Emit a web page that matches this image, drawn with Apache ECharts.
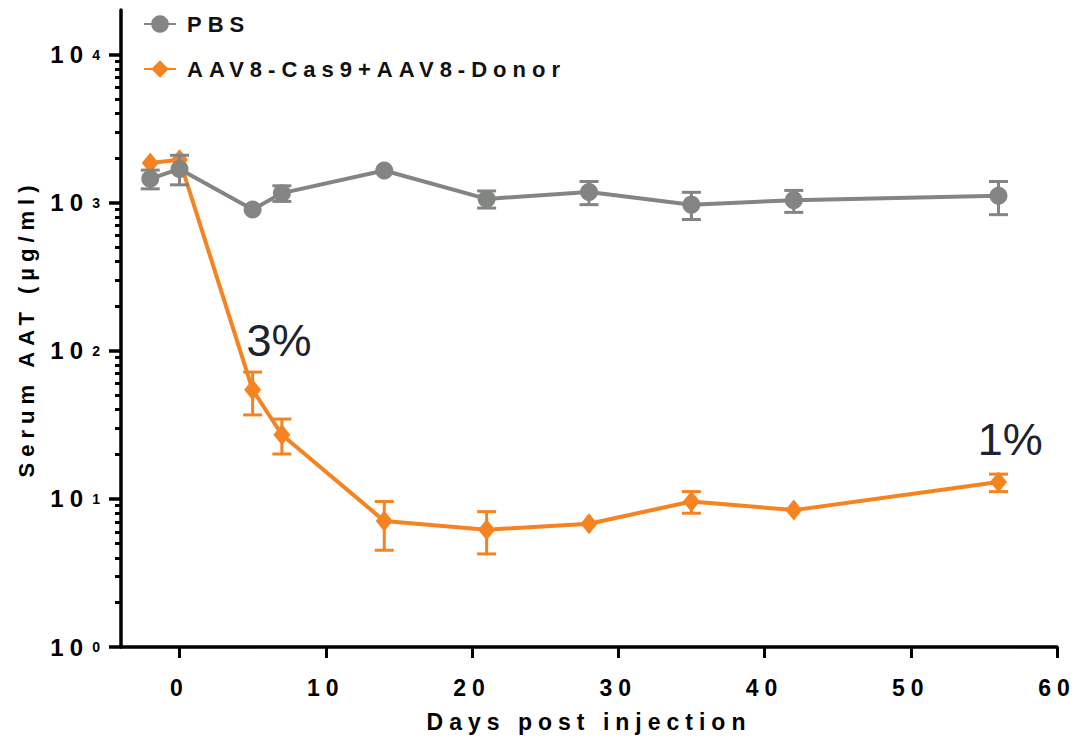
<!DOCTYPE html>
<html>
<head>
<meta charset="utf-8">
<script src="https://cdn.jsdelivr.net/npm/echarts@6/dist/echarts.min.js"></script>
<style>
  html, body { margin: 0; padding: 0; background: #fff; }
  #chart { width: 1087px; height: 744px; }
  #chart svg text { letter-spacing: 6px; }
  #chart svg text[style*="Arial"], #chart svg text[font-family*="Arial"] { letter-spacing: 0px; }
</style>
</head>
<body>
<div id="chart"></div>
<script>
// ---- data ----
const days = [-2, 0, 5, 7, 14, 21, 28, 35, 42, 56];
const pbsMean = [1450, 1690, 900, 1160, 1650, 1060, 1180, 970, 1040, 1115];
const pbsLow  = [1240, 1320, null, 1020, null, 920, 970, 770, 860, 830];
const pbsHigh = [1660, 2090, null, 1300, null, 1200, 1390, 1175, 1210, 1390];
const aavMean = [1855, 1950, 54.5, 27.1, 7.1, 6.2, 6.8, 9.6, 8.4, 13.0];
const aavLow  = [null, null, 36.9, 20.1, 4.5, 4.25, null, 8.0, null, 11.2];
const aavHigh = [null, null, 71.8, 34.6, 9.6, 8.2, null, 11.2, null, 14.7];
const xTicks = [0, 10, 20, 30, 40, 50, 60];
const yMajorTicks = [1, 10, 100, 1000, 10000];
const yMinorTicks = [2,3,4,5,6,7,8,9,20,30,40,50,60,70,80,90,200,300,400,500,600,700,800,900,2000,3000,4000,5000,6000,7000,8000,9000];
const seriesNames = ['PBS', 'AAV8-Cas9+AAV8-Donor'];
const annotations = [
  { day: 6.8, level: 118, text: '3%' },
  { day: 56.8, level: 25, text: '1%' }
];

const GRAY = '#838583';
const ORANGE = '#f68220';
const FONT = 'Liberation Sans, sans-serif';
const GRID_LEFT = 121, GRID_RIGHT = 30;
const PLOT_WIDTH = 1087 - GRID_LEFT - GRID_RIGHT;

function pairs(ys) { return days.map((d, i) => [d, ys[i]]); }
function errData(low, high) {
  const out = [];
  days.forEach((d, i) => { if (low[i] != null) out.push([d, low[i], high[i]]); });
  return out;
}
function errRender(color) {
  return function (params, api) {
    const x = api.value(0);
    const lo = api.coord([x, api.value(1)]);
    const hi = api.coord([x, api.value(2)]);
    const hw = 9.5;
    const st = { stroke: color, lineWidth: 3 };
    return {
      type: 'group',
      children: [
        { type: 'line', shape: { x1: lo[0], y1: lo[1], x2: hi[0], y2: hi[1] }, style: st },
        { type: 'line', shape: { x1: lo[0] - hw, y1: lo[1], x2: lo[0] + hw, y2: lo[1] }, style: st },
        { type: 'line', shape: { x1: hi[0] - hw, y1: hi[1], x2: hi[0] + hw, y2: hi[1] }, style: st }
      ]
    };
  };
}

const chart = echarts.init(document.getElementById('chart'), null, { renderer: 'svg' });
const option = {
  animation: false,
  backgroundColor: '#fff',
  grid: { left: GRID_LEFT, right: GRID_RIGHT, top: 10, bottom: 97, containLabel: false },
  legend: {
    data: seriesNames,
    orient: 'vertical',
    left: 138,
    top: 8,
    itemWidth: 32,
    itemHeight: 22,
    itemGap: 23,
    textStyle: { fontFamily: FONT, fontSize: 22, fontWeight: 'bold', color: '#111', padding: [0, 0, 0, 6] }
  },
  xAxis: {
    type: 'value',
    min: -4,
    max: 60,
    splitLine: { show: false },
    axisLine: { show: true, onZero: false, lineStyle: { color: '#000', width: 3.5 } },
    axisTick: { show: true, length: 11, customValues: xTicks, lineStyle: { color: '#000', width: 3 } },
    axisLabel: { customValues: xTicks, margin: 29, fontFamily: FONT, fontSize: 23, fontWeight: 'bold', color: '#000' },
    name: 'Days post injection',
    nameLocation: 'middle',
    nameGap: 63,
    nameTextStyle: { fontFamily: FONT, fontSize: 23, fontWeight: 'bold', color: '#000' }
  },
  yAxis: [
    {
      type: 'log',
      logBase: 10,
      min: 1,
      max: 20000,
      position: 'left',
      splitLine: { show: false },
      axisLine: { show: true, onZero: false, lineStyle: { color: '#000', width: 3.5 } },
      axisTick: { show: true, length: 12, customValues: yMajorTicks, lineStyle: { color: '#000', width: 3.5 } },
      axisLabel: {
        customValues: yMajorTicks,
        margin: 32,
        fontFamily: FONT,
        fontSize: 24,
        fontWeight: 'bold',
        color: '#000',
        padding: [14, 0, 0, 0],
        formatter: function () { return '10'; }
      },
      name: 'Serum AAT (µg/ml)',
      nameLocation: 'middle',
      nameGap: 84,
      nameTextStyle: { fontFamily: FONT, fontSize: 22, fontWeight: 'bold', color: '#000' }
    },
    {
      // minor ticks and exponent superscripts, laid onto the left axis line
      type: 'log',
      logBase: 10,
      min: 1,
      max: 20000,
      position: 'right',
      offset: -PLOT_WIDTH,
      splitLine: { show: false },
      axisLine: { show: false, onZero: false },
      axisTick: { show: true, inside: true, length: 6, customValues: yMinorTicks, lineStyle: { color: '#000', width: 3 } },
      axisLabel: {
        show: true,
        inside: true,
        customValues: yMajorTicks,
        margin: 15,
        fontFamily: FONT,
        fontSize: 14,
        fontWeight: 'bold',
        color: '#000',
        padding: [0, 0, 8, 0],
        formatter: function (v) { return String(Math.round(Math.log10(v))); }
      }
    }
  ],
  series: [
    {
      name: seriesNames[1],
      type: 'line',
      data: pairs(aavMean),
      symbol: 'diamond',
      symbolSize: [17, 21],
      lineStyle: { color: ORANGE, width: 4 },
      itemStyle: { color: ORANGE },
      z: 3,
      markPoint: {
        symbol: 'circle',
        symbolSize: 1,
        itemStyle: { color: 'rgba(0,0,0,0)' },
        label: { show: true, position: 'inside', fontFamily: 'Arial', fontSize: 45, color: '#1d2230', fontWeight: 'normal' },
        data: annotations.map(a => ({ coord: [a.day, a.level], value: a.text, label: { formatter: a.text } }))
      }
    },
    {
      name: seriesNames[1] + ' err',
      type: 'custom',
      data: errData(aavLow, aavHigh),
      renderItem: errRender(ORANGE),
      z: 2
    },
    {
      name: seriesNames[0],
      type: 'line',
      data: pairs(pbsMean),
      symbol: 'circle',
      symbolSize: 18,
      lineStyle: { color: GRAY, width: 4 },
      itemStyle: { color: GRAY },
      z: 5
    },
    {
      name: seriesNames[0] + ' err',
      type: 'custom',
      data: errData(pbsLow, pbsHigh),
      renderItem: errRender(GRAY),
      z: 4
    }
  ]
};
chart.setOption(option);
</script>
</body>
</html>
